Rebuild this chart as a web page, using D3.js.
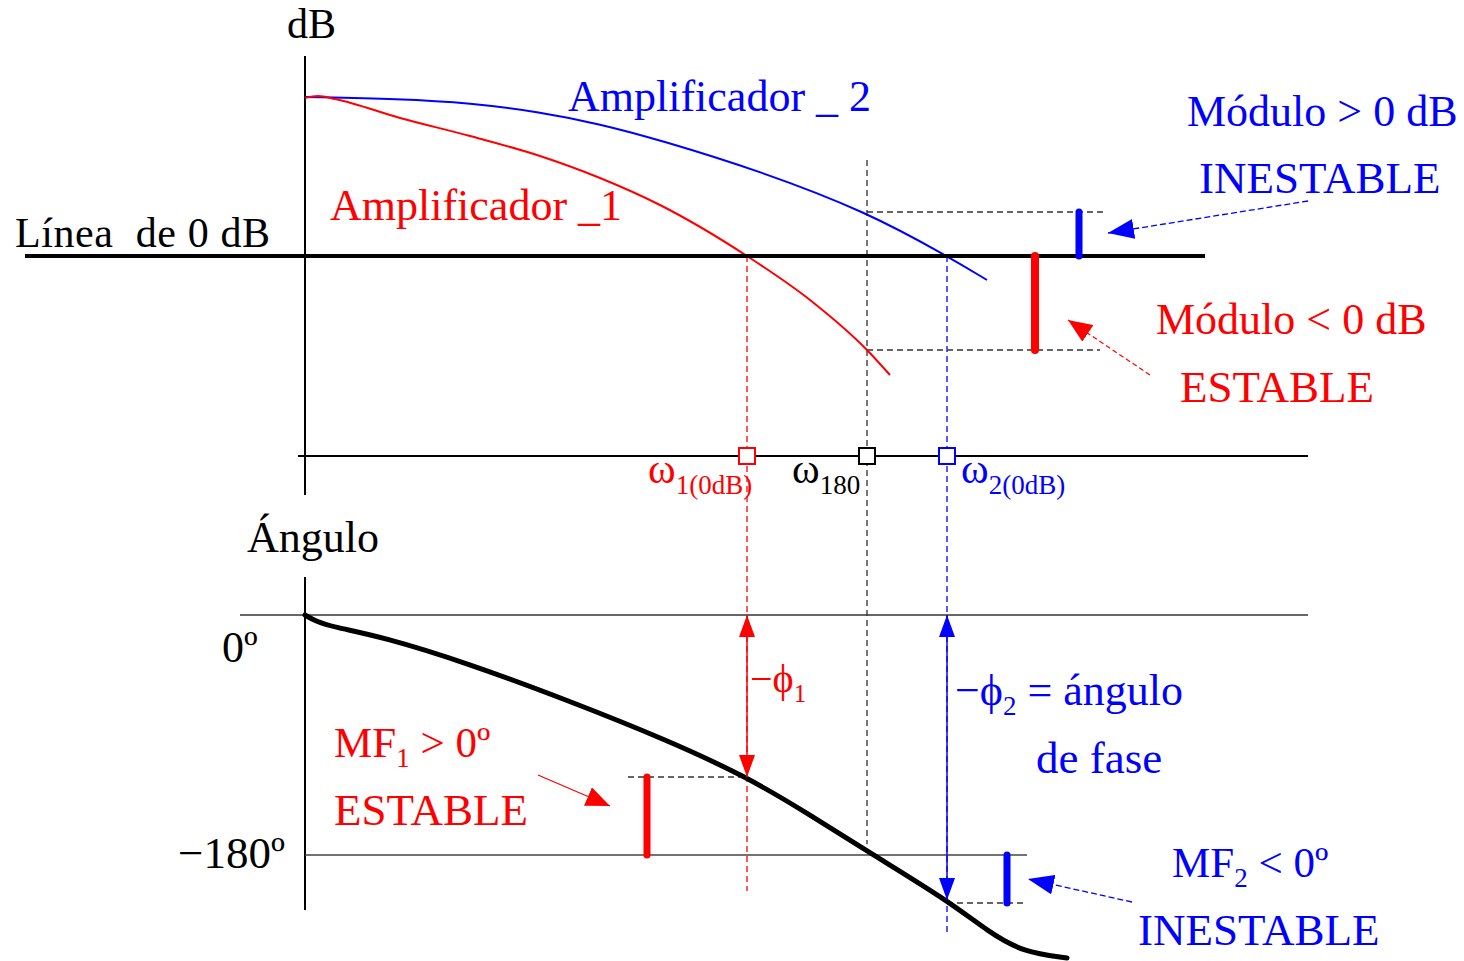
<!DOCTYPE html>
<html>
<head>
<meta charset="utf-8">
<script src="https://cdn.jsdelivr.net/npm/d3@7"></script>
<style>
  body { margin: 0; background: #fff; }
  text { font-family: "Liberation Serif", "Times New Roman", serif; }
</style>
</head>
<body>
<div id="bode"></div>
<script>
// magnitude curves (x in arbitrary frequency units, dB)
const amp1Freq = [0, 1.3, 3, 9.5, 16.5, 23.5, 29.5, 35.5, 44.2, 50.5, 56.2, 58.5];
const amp1Db   = [15.8, 16.0, 15.7, 13.8, 12.0, 10.0, 7.8, 5.1, 0, -4.4, -9.4, -11.9];
const amp2Freq = [0, 9.5, 16.5, 23.5, 29.5, 35.5, 45.5, 56.2, 64.2, 68.2];
const amp2Db   = [15.9, 15.7, 15.3, 14.4, 13.2, 11.6, 8.5, 4.4, 0, -2.4];

// phase curve (degrees)
const phaseFreq = [0, 1, 2.8, 7.8, 16.2, 26.2, 36.2, 44.2, 50.2, 56.5, 64.2, 68.5, 71.8, 76.2];
const phaseDeg  = [0, -4.5, -9, -16.5, -36, -63.75, -93.75, -121.5, -148.5, -178.5, -213.75, -238.5, -252.75, -257.25];

// crossover frequencies
const critNames = ["1(0dB)", "180", "2(0dB)"];
const critFreq  = [44.2, 56.2, 64.2];
const critColor = ["red", "black", "blue"];

// values read at the crossovers
const gainAt180   = [-9.4, 4.4];       // amp1, amp2 at w180
const phaseAt0dB  = [-121.5, -213.75]; // amp1 at w1, amp2 at w2

const W = 1464, H = 961;
const svg = d3.select("#bode").append("svg")
  .attr("width", W).attr("height", H);

const x = d3.scaleLinear().domain([0, 100]).range([305, 1305]);
const yDb = d3.scaleLinear().domain([-20, 20]).range([456, 56]);
const yPh = d3.scaleLinear().domain([0, -180]).range([615, 855]);

// arrow heads
const defs = svg.append("defs");
function head(id, color, len, wid) {
  defs.append("marker")
    .attr("id", id)
    .attr("markerUnits", "userSpaceOnUse")
    .attr("viewBox", `0 ${-wid / 2} ${len} ${wid}`)
    .attr("refX", len).attr("refY", 0)
    .attr("markerWidth", len).attr("markerHeight", wid)
    .attr("orient", "auto-start-reverse")
    .append("path")
    .attr("d", `M0,${-wid / 2}L${len},0L0,${wid / 2}Z`)
    .attr("fill", color);
}
head("hRed", "red", 22, 16);
head("hBlue", "blue", 22, 16);
head("hRedBig", "red", 24, 20);
head("hBlueBig", "blue", 26, 20);

function vline(xv, y1, y2, color, w, dash) {
  return svg.append("line")
    .attr("x1", xv).attr("x2", xv).attr("y1", y1).attr("y2", y2)
    .attr("stroke", color).attr("stroke-width", w)
    .attr("stroke-dasharray", dash || null);
}
function hline(x1, x2, yv, color, w, dash) {
  return svg.append("line")
    .attr("x1", x1).attr("x2", x2).attr("y1", yv).attr("y2", yv)
    .attr("stroke", color).attr("stroke-width", w)
    .attr("stroke-dasharray", dash || null);
}

// ---------- magnitude plot ----------
vline(x(0), yDb(20), yDb(-23.9), "black", 2);
hline(x(-0.7), x(100.3), yDb(-20), "black", 2);

// dashed guides
vline(x(critFreq[0]), yDb(0), yPh(-207), "red", 1.3, "6,4");
vline(x(critFreq[1]), yDb(9.6), yPh(-172), "#555", 1.6, "6,4");
vline(x(critFreq[2]), yDb(0), yPh(-238), "blue", 1.3, "6,4");
hline(x(critFreq[1]), x(80), yDb(gainAt180[1]), "#333", 1.3, "6,4");
hline(x(critFreq[1]), x(79.5), yDb(gainAt180[0]), "#333", 1.3, "6,4");

const magLine = d3.line()
  .x(d => x(d[0])).y(d => yDb(d[1]))
  .curve(d3.curveMonotoneX);

svg.append("path")
  .attr("d", magLine.curve(d3.curveBasis)(d3.zip(amp2Freq, amp2Db)))
  .attr("fill", "none").attr("stroke", "blue").attr("stroke-width", 2);
svg.append("path")
  .attr("d", magLine.curve(d3.curveMonotoneX)(d3.zip(amp1Freq, amp1Db)))
  .attr("fill", "none").attr("stroke", "red").attr("stroke-width", 2);

// 0 dB line
hline(x(-28), x(90), yDb(0), "black", 4);

// gain margin bars
vline(x(73), yDb(0), yDb(gainAt180[0]), "red", 8).attr("stroke-linecap", "round");
vline(x(77.4), yDb(gainAt180[1]), yDb(0), "blue", 7).attr("stroke-linecap", "round");

// crossover markers
critFreq.forEach((f, i) => {
  svg.append("rect")
    .attr("x", x(f) - 8).attr("y", yDb(-20) - 8)
    .attr("width", 16).attr("height", 16)
    .attr("fill", "white").attr("stroke", critColor[i]).attr("stroke-width", 2);
});

// ---------- phase plot ----------
vline(x(0), 577, 910, "black", 2);
hline(x(-6.5), x(100.3), yPh(0), "#333", 1.6);
hline(x(0), x(72.2), yPh(-180), "#444", 1.6);

hline(x(32.3), x(critFreq[0]), yPh(phaseAt0dB[0]), "#333", 1.3, "6,4");
hline(x(critFreq[2]), x(72.2), yPh(phaseAt0dB[1]) + 3, "#333", 1.3, "6,4");

const phLine = d3.line()
  .x(d => x(d[0])).y(d => yPh(d[1]))
  .curve(d3.curveBasis);
svg.append("path")
  .attr("d", phLine(d3.zip(phaseFreq, phaseDeg)))
  .attr("fill", "none").attr("stroke", "black").attr("stroke-width", 5)
  .attr("stroke-linecap", "round");

// phase arrows
vline(x(critFreq[0]), yPh(0), yPh(phaseAt0dB[0]), "red", 1.5)
  .attr("marker-start", "url(#hRed)").attr("marker-end", "url(#hRed)");
vline(x(critFreq[2]), yPh(0), yPh(phaseAt0dB[1]), "blue", 1.5)
  .attr("marker-start", "url(#hBlue)").attr("marker-end", "url(#hBlue)");

// phase margin bars
vline(x(34.2), yPh(phaseAt0dB[0]), yPh(-180), "red", 7).attr("stroke-linecap", "round");
vline(x(70.2), yPh(-180), yPh(phaseAt0dB[1]) + 3, "blue", 7).attr("stroke-linecap", "round");

// annotation arrows
function arrow(x1, y1, x2, y2, color, w, dash, mk) {
  svg.append("line")
    .attr("x1", x1).attr("y1", y1).attr("x2", x2).attr("y2", y2)
    .attr("stroke", color).attr("stroke-width", w)
    .attr("stroke-dasharray", dash || null)
    .attr("marker-end", `url(#${mk})`);
}
arrow(1308, 201, 1108, 233, "blue", 1.3, "6,3", "hBlueBig");
arrow(1150, 375, 1068, 320, "red", 1.2, "5,3", "hRedBig");
arrow(538, 775, 610, 806, "red", 1.3, null, "hRedBig");
arrow(1132, 902, 1028, 879, "blue", 1.3, "6,3", "hBlueBig");

// ---------- text ----------
function label(tx, ty, color, size, parts) {
  const t = svg.append("text").attr("x", tx).attr("y", ty)
    .attr("fill", color).attr("font-size", size);
  parts.forEach(p => {
    const s = t.append("tspan").text(p.t);
    if (p.sub) s.attr("font-size", p.sub).attr("dy", p.dy);
    else if (p.dy) s.attr("dy", p.dy);
  });
  return t;
}
label(287, 38, "black", 42, [{t: "dB"}]);
label(15, 247, "black", 42, [{t: "Línea  de 0 dB"}]).attr("xml:space", "preserve")
  .attr("textLength", 255);
label(568, 111, "blue", 44, [{t: "Amplificador _ 2"}]);
label(330, 220, "red", 44, [{t: "Amplificador _1"}]);
label(1187, 126, "blue", 44, [{t: "Módulo > 0 dB"}]);
label(1199, 193, "blue", 45, [{t: "INESTABLE"}]);
label(1156, 334, "red", 44, [{t: "Módulo < 0 dB"}]);
label(1180, 402, "red", 45, [{t: "ESTABLE"}]);

const wx = [648, 792, 961];
critNames.forEach((n, i) => {
  label(wx[i], 483, critColor[i], 42, [{t: "ω"}, {t: n, sub: 27, dy: 11}]);
});

label(247, 552, "black", 44, [{t: "Ángulo"}]);
label(222, 662, "black", 44, [{t: "0º"}]);
label(178, 868, "black", 45, [{t: "−180º"}]);
label(334, 757, "red", 43, [{t: "MF"}, {t: "1", sub: 27, dy: 10}, {t: " > 0º", dy: -10}]);
label(334, 825, "red", 45, [{t: "ESTABLE"}]);
label(750, 692, "red", 40, [{t: "−ϕ"}, {t: "1", sub: 25, dy: 10}]);
label(955, 705, "blue", 44, [{t: "−ϕ"}, {t: "2", sub: 27, dy: 10}, {t: " = ángulo", dy: -10}]);
label(1036, 773, "blue", 45, [{t: "de fase"}]);
label(1172, 877, "blue", 43, [{t: "MF"}, {t: "2", sub: 27, dy: 10}, {t: " < 0º", dy: -10}]);
label(1138, 945, "blue", 45, [{t: "INESTABLE"}]);
</script>
</body>
</html>
